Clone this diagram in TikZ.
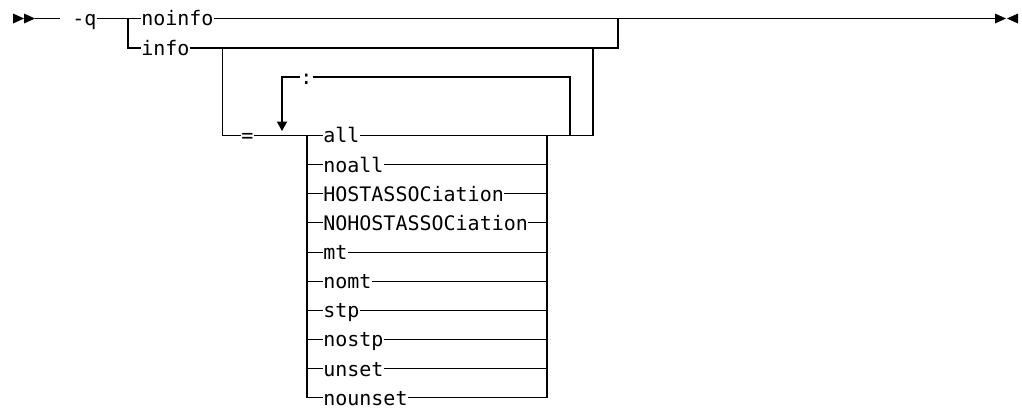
\documentclass[tikz,border=0pt]{standalone}
\usepackage{fontspec}
\newfontfamily\railfont{DejaVu Sans Mono}
\usetikzlibrary{arrows.meta,positioning,calc}

\tikzset{
  rail/.style={line width=0.8pt, black},
  kw/.style={font=\railfont\fontsize{15}{18}\selectfont, anchor=west,
    inner xsep=0pt, inner ysep=0pt, text height=11.1pt, text depth=0pt},
}

\begin{document}
\begin{tikzpicture}[x=0.75pt, y=-0.75pt]
  \useasboundingbox (0,0) rectangle (1022,408);
  % rows of the diagram
  \def\rA{18.5} \def\rB{48} \def\rC{77} \def\rD{135.5} \def\rstep{29.15}

  % Start marker
  \fill (13,13.5) -- (24,18.5) -- (13,23.5) -- cycle;
  \fill (24,13.5) -- (35,18.5) -- (24,23.5) -- cycle;
  \coordinate (start) at (35,\rA);

  % -q and its choice
  \node[kw] (q) at (72,\rA) {-q};
  \coordinate (jq) at (128,\rA);
  \coordinate (jqb) at (128,\rB);
  \node[kw] (noinfo) at (141,\rA) {noinfo};
  \node[kw] (info) at (141,\rB) {info};
  \coordinate (rq) at (618,\rA);
  \coordinate (rqb) at (618,\rB);
  \coordinate (finish) at (995,\rA);

  \draw[rail] (start) -- ($(q.west)+(-12,0)$);
  \draw[rail] (q.east) -- (jq) -- (noinfo.west);
  \draw[rail] (jq) -- (jqb) -- (info.west);
  \draw[rail] (noinfo.east) -- (rq) -- (finish);
  \draw[rail] (info.east) -- (rqb) -- (rq);

  % End marker
  \fill (995,13.5) -- (1006,18.5) -- (995,23.5) -- cycle;
  \fill (1018,13.5) -- (1007,18.5) -- (1018,23.5) -- cycle;

  % Optional = part
  \coordinate (ji) at (222.5,\rB);
  \coordinate (jib) at (222.5,\rD);
  \node[kw] (eq) at (241,\rD) {=};
  \coordinate (ri) at (593,\rB);
  \coordinate (rib) at (593,\rD);
  \draw[rail] (ji) -- (jib) -- (eq.west);

  % Repeat loop with : separator
  \coordinate (lp) at (282,\rC);
  \coordinate (lptip) at (282,131);
  \node[kw] (sep) at (300,\rC) {:};
  \coordinate (lr) at (570,\rC);
  \coordinate (lrb) at (570,\rD);
  \draw[rail, -{Triangle[width=7.5pt,length=7pt]}] (sep.west) -- (lp) -- (lptip);
  \draw[rail] (sep.east) -- (lr) -- (lrb);

  % Options
  \foreach \opt [count=\i from 0] in {all,noall,HOSTASSOCiation,NOHOSTASSOCiation,mt,nomt,stp,nostp,unset,nounset} {
    \coordinate (l\i) at (307,{\rD+\i*\rstep});
    \coordinate (c\i) at (547,{\rD+\i*\rstep});
    \node[kw] (opt\i) at (323,{\rD+\i*\rstep}) {\opt};
    \draw[rail] (l\i) -- (opt\i.west);
    \draw[rail] (opt\i.east) -- (c\i);
  }
  \draw[rail] (eq.east) -- (l0) -- (l9);
  \draw[rail] (c0) -- (c9);
  \draw[rail] (c0) -- (lrb) -- (rib) -- (ri);
\end{tikzpicture}
\end{document}
